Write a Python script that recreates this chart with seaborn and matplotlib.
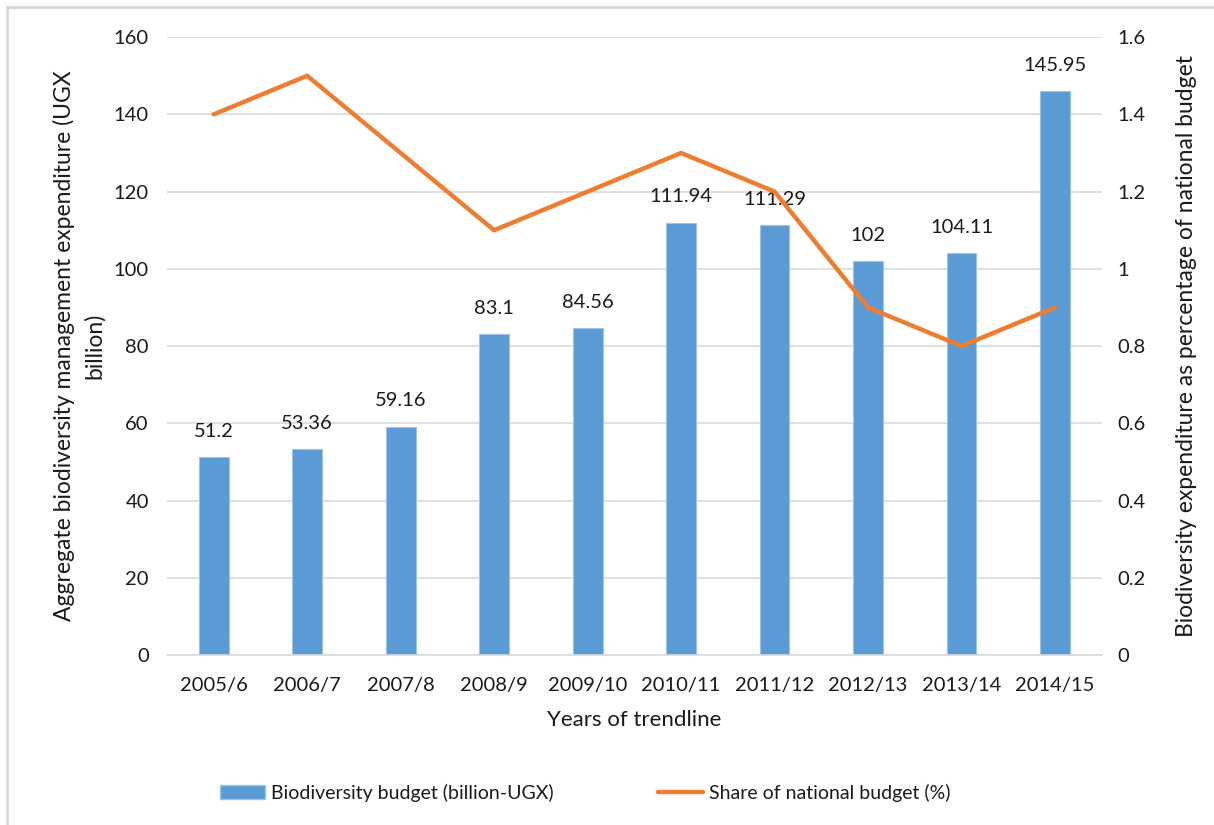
import numpy as np
import pandas as pd
import matplotlib
matplotlib.use("Agg")
import matplotlib.pyplot as plt
from matplotlib.lines import Line2D
from matplotlib.patches import Patch
from matplotlib.ticker import FuncFormatter, MultipleLocator
import seaborn as sns

# chart data
years = ["2005/6", "2006/7", "2007/8", "2008/9", "2009/10",
         "2010/11", "2011/12", "2012/13", "2013/14", "2014/15"]
budget = [51.2, 53.36, 59.16, 83.1, 84.56, 111.94, 111.29, 102, 104.11, 145.95]
budget_labels = ["51.2", "53.36", "59.16", "83.1", "84.56",
                 "111.94", "111.29", "102", "104.11", "145.95"]
share = [1.4, 1.5, 1.3, 1.1, 1.2, 1.3, 1.2, 0.9, 0.8, 0.9]

bar_color = "#5B9BD5"
line_color = "#ED7D31"
text_color = "#1a1a1a"

sns.set_style("white")
plt.rcParams["font.family"] = ["Lato", "DejaVu Sans"]

df = pd.DataFrame({"year": years, "budget": budget, "share": share})

fig = plt.figure(figsize=(12.14, 8.25), dpi=100)
ax = fig.add_axes([0.1375, 0.206, 0.770, 0.749])

sns.barplot(data=df, x="year", y="budget", color=bar_color, width=0.32,
            saturation=1, edgecolor="#9dc3e6", linewidth=0.8, ax=ax)
ax.set_ylim(0, 160)
ax.yaxis.set_major_locator(MultipleLocator(20))
ax.grid(axis="y", color="#d9d9d9", linewidth=1.2)
ax.set_axisbelow(True)
for side in ["top", "right", "left"]:
    ax.spines[side].set_visible(False)
ax.spines["bottom"].set_color("#d9d9d9")
ax.spines["bottom"].set_linewidth(1.2)
ax.tick_params(axis="both", length=0, labelsize=14.5, colors=text_color)
ax.tick_params(axis="y", pad=13)
ax.tick_params(axis="x", pad=16)
ax.set_xlabel("Years of trendline", fontsize=16, color=text_color, labelpad=11)
ax.set_ylabel("Aggregate biodiversity management expenditure (UGX\nbillion)",
              fontsize=16.5, color=text_color, labelpad=6, linespacing=1.5)

# value labels above the bars
for patch, lab in zip(ax.patches, budget_labels):
    ax.text(patch.get_x() + patch.get_width() / 2, patch.get_height() + 4.5,
            lab, ha="center", va="bottom", fontsize=14.5, color=text_color)

ax2 = ax.twinx()
sns.lineplot(data=df, x="year", y="share", color=line_color, linewidth=3.2,
             ax=ax2, sort=False)
ax2.set_ylim(0, 1.6)
ax2.yaxis.set_major_locator(MultipleLocator(0.2))
ax2.yaxis.set_major_formatter(FuncFormatter(lambda v, p: f"{round(v, 1):g}"))
for side in ["top", "right", "left", "bottom"]:
    ax2.spines[side].set_visible(False)
ax2.tick_params(axis="y", length=0, labelsize=14.5, colors=text_color, pad=11)
ax2.set_ylabel("Biodiversity expenditure as percentage of national budget",
               fontsize=16.5, color=text_color, labelpad=22)
ax2.set_xlabel("")
ax.set_xlim(-0.5, len(years) - 0.5)

handles = [Patch(facecolor=bar_color, edgecolor="#9dc3e6"),
           Line2D([0], [0], color=line_color, linewidth=3.2)]
fig.legend(handles, ["Biodiversity budget (billion-UGX)", "Share of national budget (%)"],
           loc="center", bbox_to_anchor=(0.482, 0.039), ncol=2, frameon=False,
           fontsize=14, handlelength=2.3, handleheight=0.75, handletextpad=0.3,
           columnspacing=5.4, labelcolor=text_color)

# light frame on the left and top edges
fig.add_artist(Line2D([0.006, 0.006], [0.0, 0.991], transform=fig.transFigure,
                      color="#d9d9d9", linewidth=2))
fig.add_artist(Line2D([0.006, 1.0], [0.991, 0.991], transform=fig.transFigure,
                      color="#d9d9d9", linewidth=2))

fig.savefig("out.png", dpi=100)
